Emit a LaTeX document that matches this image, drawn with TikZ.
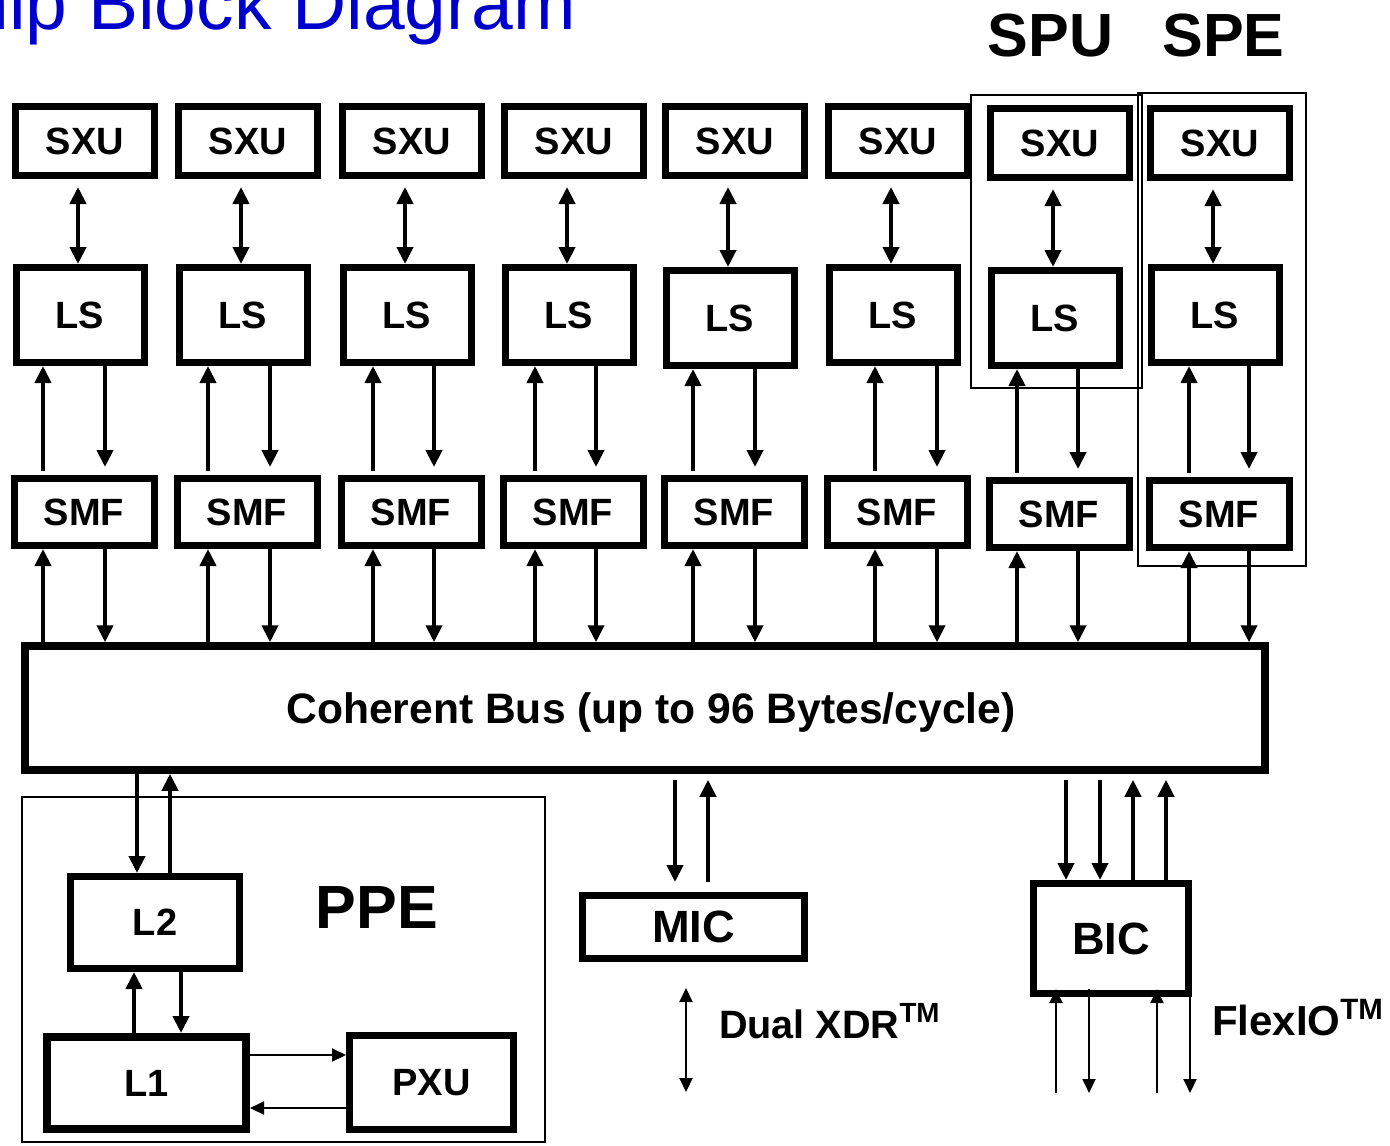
\documentclass[tikz,border=0pt]{standalone}
\usepackage{fontspec}
\setmainfont{Liberation Sans}
\usetikzlibrary{arrows.meta}
\definecolor{titleblue}{RGB}{0,0,204}

\begin{document}
\begin{tikzpicture}[x=0.5pt,y=-0.5pt,
unit/.style={draw,line width=3.5pt,inner sep=0pt,font=\bfseries\fontsize{19pt}{21pt}\selectfont},
big/.style={font=\bfseries\fontsize{22.6pt}{25pt}\selectfont},
grp/.style={draw,line width=1pt},
lbl/.style={anchor=base,font=\bfseries\fontsize{30.5pt}{33pt}\selectfont},
arr/.style={line width=2pt,-{Triangle[length=8.5pt,width=8pt]}},
darr/.style={line width=2pt,{Triangle[length=8.5pt,width=8pt]}-{Triangle[length=8.5pt,width=8pt]}},
tarr/.style={line width=1pt,-{Triangle[length=7pt,width=6.5pt]}},
tdarr/.style={line width=1pt,{Triangle[length=7pt,width=6.5pt]}-{Triangle[length=7pt,width=6.5pt]}}]
\useasboundingbox (0,0) rectangle (1390,1145);
\node[anchor=base east,text=titleblue,font=\fontsize{37.5pt}{40pt}\selectfont] (title) at (583,30) {Chip Block Diagram};

\node[unit,line width=3.75pt,minimum width=620pt,minimum height=62pt,text depth=0pt,font=\bfseries\fontsize{21.3pt}{24pt}\selectfont] (bus) at (645,708) {\hspace*{6pt}Coherent Bus (up to 96 Bytes/cycle)};

\foreach \i/\xl/\up/\dn/\dy/\dl in {1/12/43/105/0/0,2/175/208/270/0/0,3/339/373/434/0/0,4/501/535/596/0/0,
  5/662/693/755/0/3,6/825/875/937/0/0,7/987/1017/1078/2/3,8/1147/1189/1249/2/0}{
  \node[unit,minimum width=69.5pt,minimum height=34.5pt] (sxu\i) at (\xl+73,141+\dy) {SXU};
  \node[unit,minimum width=64pt,minimum height=47.5pt] (ls\i) at (\xl+68,315+\dl) {LS};
  \node[unit,minimum width=70pt,minimum height=33.5pt] (smf\i) at (\xl+72,512+\dy) {SMF};
  \coordinate (a\i) at (\xl+66,0);
  \coordinate (u\i) at (\up,0);
  \coordinate (d\i) at (\dn,0);
  \draw[darr,shorten <=4pt] (sxu\i.south -| a\i) -- (ls\i.north -| a\i);
  \draw[arr,shorten <=2pt] (smf\i.north -| u\i) -- (ls\i.south -| u\i);
  \draw[arr,shorten >=4pt] (ls\i.south -| d\i) -- (smf\i.north -| d\i);
  \draw[arr] ([yshift=-4pt]bus.north -| u\i) -- (smf\i.south -| u\i);
  \draw[arr] (smf\i.south -| d\i) -- (bus.north -| d\i);
}

\draw[grp] (971,95) rectangle (1142,388);
\draw[grp] (1138,93) rectangle (1306,566);
\node[lbl] (spu) at (1050.5,57) {SPU};
\node[lbl] (spe) at (1223.5,57) {SPE};

\draw[grp] (22,797) rectangle (545,1142);
\node[lbl] (ppe) at (377,928) {PPE};
\node[unit,minimum width=84.5pt,minimum height=46pt] (l2) at (155,922.5) {L2};
\node[unit,line width=4pt,minimum width=99.5pt,minimum height=46pt] (l1) at (146.5,1083) {L1};
\node[unit,minimum width=82pt,minimum height=47pt] (pxu) at (431.5,1082.5) {PXU};
\coordinate (p1) at (137,0);
\coordinate (p2) at (170,0);
\coordinate (p3) at (134,0);
\coordinate (p4) at (181,0);
\coordinate (r1) at (0,1055);
\coordinate (r2) at (0,1108);
\draw[arr] (bus.south -| p1) -- (l2.north -| p1);
\draw[arr] (l2.north -| p2) -- (bus.south -| p2);
\draw[arr] (l1.north -| p3) -- (l2.south -| p3);
\draw[arr] (l2.south -| p4) -- (l1.north -| p4);
\draw[tarr] (l1.east |- r1) -- (pxu.west |- r1);
\draw[tarr] (pxu.west |- r2) -- (l1.east |- r2);

\node[unit,big,minimum width=111pt,minimum height=31.5pt] (mic) at (693.5,927) {MIC};
\coordinate (m1) at (675,0);
\coordinate (m2) at (708,0);
\draw[arr,shorten <=3pt,shorten >=5pt] (bus.south -| m1) -- (mic.north -| m1);
\draw[arr,shorten <=5pt,shorten >=3pt] (mic.north -| m2) -- (bus.south -| m2);
\coordinate (xdrT) at (686,988);
\coordinate (xdrB) at (686,1092);
\draw[tdarr] (xdrT) -- (xdrB);
\node[anchor=base west,font=\bfseries\fontsize{19.8pt}{22pt}\selectfont] (xdr) at (712,1038) {Dual XDR\textsuperscript{TM}};

\node[unit,big,minimum width=77.5pt,minimum height=55pt] (bic) at (1111,938.5) {BIC};
\foreach \x in {1066,1100}{
  \coordinate (bd) at (\x,0);
  \draw[arr,shorten <=3pt] (bus.south -| bd) -- (bic.north -| bd);
}
\foreach \x in {1133,1166}{
  \coordinate (bu) at (\x,0);
  \draw[arr,shorten >=3pt] (bic.north -| bu) -- (bus.south -| bu);
}
\coordinate (fio) at (0,1093);
\foreach \x in {1056,1157}{
  \coordinate (fu) at (\x,0);
  \draw[tarr] (fio -| fu) -- ([yshift=4pt]bic.south -| fu);
}
\foreach \x/\s in {1089/4pt,1190/0pt}{
  \coordinate (fd) at (\x,0);
  \draw[tarr] ([yshift=\s]bic.south -| fd) -- (fio -| fd);
}
\node[anchor=base west,font=\bfseries\fontsize{21pt}{23pt}\selectfont] (flexio) at (1205,1035) {FlexIO\textsuperscript{TM}};
\end{tikzpicture}
\end{document}
